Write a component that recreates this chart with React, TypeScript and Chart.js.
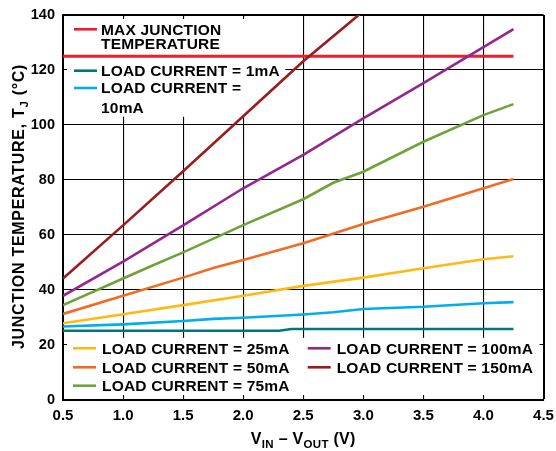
import React, { useEffect, useRef } from "react";
import { Chart, registerables } from "chart.js";

Chart.register(...registerables);

// ---------- data ----------
const xTickLabels = ["0.5", "1.0", "1.5", "2.0", "2.5", "3.0", "3.5", "4.0", "4.5"];
const yTickLabels = ["0", "20", "40", "60", "80", "100", "120", "140"];

const xMaxJunction = [0.5, 4.25];
const maxJunction = [125, 125];

const x1mA = [0.5, 1.0, 1.5, 2.0, 2.3, 2.4, 3.0, 3.5, 4.0, 4.25];
const load1mA = [25.2, 25.2, 25.2, 25.2, 25.2, 25.8, 25.8, 25.8, 25.8, 25.8];

const x10mA = [0.5, 1.0, 1.5, 1.75, 2.0, 2.5, 2.75, 3.0, 3.5, 4.0, 4.25];
const load10mA = [26.7, 27.5, 28.7, 29.5, 29.9, 31.1, 31.9, 33.1, 33.9, 35.2, 35.6];

const x25mA = [0.5, 1.0, 1.5, 2.0, 2.5, 3.0, 3.5, 4.0, 4.25];
const load25mA = [27.9, 31.2, 34.5, 37.9, 41.5, 44.5, 47.9, 51.2, 52.3];

const x50mA = [0.5, 1.0, 1.5, 1.75, 2.0, 2.5, 3.0, 3.5, 4.0, 4.25];
const load50mA = [31.3, 37.9, 44.5, 48.0, 50.9, 57.0, 64.0, 70.3, 77.0, 80.4];

const x75mA = [0.5, 1.0, 1.25, 1.5, 2.0, 2.5, 2.75, 3.0, 3.5, 4.0, 4.25];
const load75mA = [34.5, 44.2, 49.0, 53.7, 63.6, 73.0, 79.0, 83.0, 93.9, 103.6, 107.6];

const x100mA = [0.5, 1.0, 1.5, 2.0, 2.5, 3.0, 3.5, 4.0, 4.25];
const load100mA = [37.9, 50.3, 63.5, 77.0, 89.1, 102.4, 115.2, 128.3, 134.9];

const x150mA = [0.5, 1.0, 1.5, 2.0, 2.5, 3.0];
const load150mA = [44.2, 63.5, 83.2, 103.2, 123.2, 141.4];

const seriesLabels = [
  "MAX JUNCTION TEMPERATURE",
  "LOAD CURRENT = 1mA",
  "LOAD CURRENT = 10mA",
  "LOAD CURRENT = 25mA",
  "LOAD CURRENT = 50mA",
  "LOAD CURRENT = 75mA",
  "LOAD CURRENT = 100mA",
  "LOAD CURRENT = 150mA",
];
const seriesColors = [
  "#ED1C2E",
  "#00777A",
  "#00AEEF",
  "#FDBA12",
  "#F26B24",
  "#6FA23A",
  "#93278F",
  "#9B1B1F",
];

const xTitleParts = [
  { t: "V", sub: false },
  { t: "IN", sub: true },
  { t: " \u2013 V", sub: false },
  { t: "OUT", sub: true },
  { t: " (V)", sub: false },
];
const yTitleParts = [
  { t: "JUNCTION TEMPERATURE, T", sub: false },
  { t: "J", sub: true },
  { t: " (\u00B0C)", sub: false },
];

const FONT = "'Liberation Sans', Arial, Helvetica, sans-serif";

function pts(xs: number[], ys: number[]) {
  return xs.map((x, i) => ({ x, y: ys[i] }));
}

function drawRich(
  ctx: CanvasRenderingContext2D,
  parts: { t: string; sub: boolean }[],
  cx: number,
  cy: number,
  size: number,
  subSize: number,
  spacing: number
) {
  const anyCtx = ctx as any;
  anyCtx.letterSpacing = spacing + "px";
  const widths = parts.map((p) => {
    ctx.font = `bold ${p.sub ? subSize : size}px ${FONT}`;
    return ctx.measureText(p.t).width;
  });
  const total = widths.reduce((a, b) => a + b, 0);
  let x = cx - total / 2;
  ctx.textBaseline = "alphabetic";
  ctx.textAlign = "left";
  const base = cy + size * 0.36;
  parts.forEach((p, i) => {
    ctx.font = `bold ${p.sub ? subSize : size}px ${FONT}`;
    ctx.fillText(p.t, x, p.sub ? base + 4 : base);
    x += widths[i];
  });
  anyCtx.letterSpacing = "0px";
}

const overlayPlugin = {
  id: "overlayLegend",
  beforeDatasetsDraw(chart: any) {
    const { ctx, chartArea: ca, scales } = chart;
    const xs = scales.x;
    const ys = scales.y;
    ctx.save();
    ctx.fillStyle = "#ffffff";
    const tbRight = xs.getPixelForValue(2.35);
    const tbBottom = ys.getPixelForValue(103);
    ctx.fillRect(ca.left + 4, ca.top + 4, tbRight - ca.left - 4, tbBottom - ca.top - 4);
    const bbTop = ys.getPixelForValue(22.6);
    ctx.fillRect(ca.left + 4, bbTop, ca.right - ca.left - 8, ca.bottom - 5 - bbTop);
    ctx.restore();
  },
  afterDatasetsDraw(chart: any) {
    const { ctx, chartArea: ca } = chart;
    const L = ca.left;
    const T = ca.top;
    ctx.save();
    const anyCtx = ctx as any;
    anyCtx.letterSpacing = "0.2px";
    ctx.font = `bold 15.5px ${FONT}`;
    ctx.fillStyle = "#000";
    ctx.textAlign = "left";
    ctx.textBaseline = "middle";
    const marker = (x0: number, x1: number, y: number, color: string) => {
      ctx.strokeStyle = color;
      ctx.lineWidth = 2.6;
      ctx.beginPath();
      ctx.moveTo(x0, y);
      ctx.lineTo(x1, y);
      ctx.stroke();
    };
    // top legend
    const topItems = [
      { i: 0, lines: ["MAX JUNCTION", "TEMPERATURE"], y: T + 14.3, gap: 14.4 },
      { i: 1, lines: [seriesLabels[1]], y: T + 55.7, gap: 0 },
      { i: 2, lines: ["LOAD CURRENT =", "10mA"], y: T + 73, gap: 20 },
    ];
    topItems.forEach((it) => {
      marker(L + 11, L + 34, it.y, seriesColors[it.i]);
      it.lines.forEach((ln, k) => ctx.fillText(ln, L + 38, it.y + k * it.gap + 1));
    });
    // bottom legend
    const B = ca.bottom;
    const bottomItems = [
      { i: 3, x: L + 10, y: B - 51.7 },
      { i: 4, x: L + 10, y: B - 32.7 },
      { i: 5, x: L + 10, y: B - 14.3 },
      { i: 6, x: L + 244.7, y: B - 51.7 },
      { i: 7, x: L + 244.7, y: B - 32.7 },
    ];
    bottomItems.forEach((it) => {
      marker(it.x, it.x + 23, it.y, seriesColors[it.i]);
      ctx.fillText(seriesLabels[it.i], it.x + 29, it.y + 1);
    });
    anyCtx.letterSpacing = "0px";
    ctx.restore();
  },
  afterDraw(chart: any) {
    const { ctx, chartArea: ca } = chart;
    ctx.save();
    ctx.fillStyle = "#000";
    drawRich(ctx, xTitleParts, (ca.left + ca.right) / 2, 438, 16, 11.5, 0.3);
    ctx.translate(18, 206.5);
    ctx.rotate(-Math.PI / 2);
    drawRich(ctx, yTitleParts, 0, 0, 16, 11.5, 0.7);
    ctx.restore();
  },
};

export default function App() {
  const ref = useRef<HTMLCanvasElement | null>(null);

  useEffect(() => {
    document.body.style.margin = "0";
    const canvas = ref.current;
    if (!canvas) return;

    const mk = (i: number, xs: number[], ys: number[]) => ({
      label: seriesLabels[i],
      data: pts(xs, ys),
      borderColor: seriesColors[i],
      backgroundColor: seriesColors[i],
      borderWidth: i === 0 ? 3 : 2.6,
      pointRadius: 0,
      tension: 0,
      fill: false,
    });

    const edgeWidth = (last: number) => (c: any) =>
      c.index === last ? 2 : 1.1;

    const chart = new Chart(canvas, {
      type: "line",
      data: {
        datasets: [
          mk(1, x1mA, load1mA),
          mk(2, x10mA, load10mA),
          mk(3, x25mA, load25mA),
          mk(4, x50mA, load50mA),
          mk(5, x75mA, load75mA),
          mk(6, x100mA, load100mA),
          mk(7, x150mA, load150mA),
          mk(0, xMaxJunction, maxJunction),
        ],
      },
      options: {
        animation: false,
        responsive: false,
        devicePixelRatio: 1,
        layout: { padding: { left: 0, right: 12.5, top: 15, bottom: 0 } },
        plugins: {
          legend: { display: false },
          tooltip: { enabled: false },
        },
        scales: {
          x: {
            type: "linear",
            min: 0.5,
            max: 4.5,
            afterBuildTicks: (s: any) => {
              s.ticks = xTickLabels.map((v) => ({ value: parseFloat(v) }));
            },
            afterFit: (s: any) => {
              s.height = 51;
              s.paddingLeft = 0;
              s.paddingRight = 0;
            },
            ticks: {
              callback: (v: any) => Number(v).toFixed(1),
              color: "#000",
              font: { family: FONT, size: 15, weight: "bold" },
              padding: 7,
              maxRotation: 0,
              autoSkip: false,
            },
            grid: {
              color: "#000",
              lineWidth: edgeWidth(xTickLabels.length - 1),
              drawTicks: false,
            },
            border: { color: "#000", width: 2 },
          },
          y: {
            type: "linear",
            min: 0,
            max: 140,
            afterBuildTicks: (s: any) => {
              s.ticks = yTickLabels.map((v) => ({ value: parseFloat(v) }));
            },
            afterFit: (s: any) => {
              s.width = 63;
              s.paddingTop = 0;
              s.paddingBottom = 0;
            },
            ticks: {
              callback: (v: any) => String(v),
              color: "#000",
              font: { family: FONT, size: 14.5, weight: "bold" },
              padding: 8,
              autoSkip: false,
            },
            grid: {
              color: "#000",
              lineWidth: edgeWidth(yTickLabels.length - 1),
              drawTicks: false,
            },
            border: { color: "#000", width: 2 },
          },
        },
      } as any,
      plugins: [overlayPlugin],
    });

    return () => chart.destroy();
  }, []);

  return (
    <div style={{ width: 556, height: 451, background: "#fff" }}>
      <canvas ref={ref} width={556} height={451} style={{ display: "block" }} />
    </div>
  );
}
